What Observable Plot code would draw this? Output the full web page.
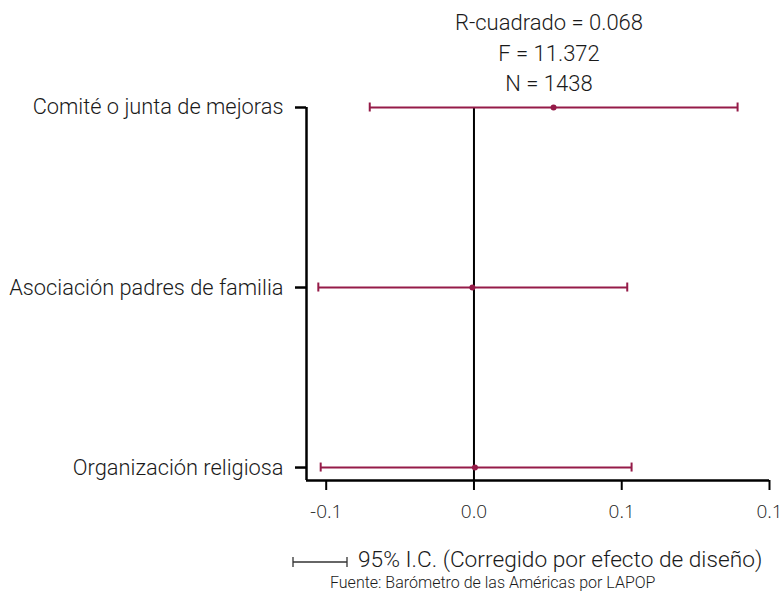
<!DOCTYPE html>
<html><head><meta charset="utf-8">
<script src="https://cdn.jsdelivr.net/npm/d3@7"></script>
<script src="https://cdn.jsdelivr.net/npm/@observablehq/plot@0.6"></script>
<style>
body{margin:0;background:#fff;}
#wrap{position:relative;width:782px;height:591px;overflow:hidden;font-family:Roboto,sans-serif;font-weight:300;color:#1a1a1a;}
#chart{position:absolute;left:0;top:0;}
.ann{position:absolute;left:399px;width:300px;text-align:center;font-size:22px;line-height:22px;white-space:nowrap;}
#legend{position:absolute;left:358px;top:549px;font-size:22.7px;line-height:22px;white-space:nowrap;}
#legsym{position:absolute;left:290px;top:556px;}
#caption{position:absolute;left:330px;top:574.5px;font-size:16px;line-height:15.5px;white-space:nowrap;}
</style></head><body>
<div id="wrap">
  <div id="chart"></div>
  <div id="anns"></div>
  <svg id="legsym" width="60" height="14"><line x1="3" x2="57" y1="6" y2="6" stroke="#333" stroke-width="1.3"/><line x1="3" x2="3" y1="1" y2="11" stroke="#333" stroke-width="1.3"/><line x1="57" x2="57" y1="1" y2="11" stroke="#333" stroke-width="1.3"/></svg>
  <div id="legend">95% I.C. (Corregido por efecto de diseño)</div>
  <div id="caption">Fuente: Barómetro de las Américas por LAPOP</div>
</div>
<script>
const categories = ["Organización religiosa", "Asociación padres de familia", "Comité o junta de mejoras"];
const coef = [0.0005, -0.0008, 0.0404];
const ciLow = [-0.0778, -0.0790, -0.0529];
const ciHigh = [0.0800, 0.0778, 0.1338];
const xTicks = [-0.075, 0, 0.075, 0.15];
const xTickLabels = ["-0.1", "0.0", "0.1", "0.1"];
const stats = ["R-cuadrado = 0.068", "F = 11.372", "N = 1438"];

const rows = categories.map((c, i) => ({cat: c, pos: i, coef: coef[i], lo: ciLow[i], hi: ciHigh[i]}));
const xDomain = [-0.085, 0.15];
const yDomain = [-0.072, 2];
const color = "#951b48";

const plot = Plot.plot({
  width: 782, height: 591,
  marginLeft: 306, marginRight: 13, marginTop: 107, marginBottom: 111,
  x: {domain: xDomain},
  y: {domain: yDomain},
  style: {background: "transparent", color: "#000"},
  marks: [
    Plot.axisX({ticks: xTicks, tickFormat: d => xTickLabels[xTicks.indexOf(d)], tickSize: 10, tickPadding: 14,
      strokeWidth: 2, fontSize: 19, fontFamily: "Open Sans", fill: "#222", label: null}),
    Plot.axisY({ticks: [0, 1, 2], tickFormat: d => categories[d], tickSize: 11, tickPadding: 12,
      strokeWidth: 2.5, fontSize: 21.8, fontFamily: "Roboto", fontWeight: 300, fill: "#1a1a1a", label: null}),
    Plot.ruleX([xDomain[0]], {y1: yDomain[0], y2: 2, strokeWidth: 2.5}),
    Plot.ruleY([yDomain[0]], {x1: xDomain[0], x2: xTicks[3], strokeWidth: 2.5}),
    Plot.ruleX([0], {y1: yDomain[0], y2: 2, strokeWidth: 2}),
    Plot.link(rows, {x1: "lo", x2: "hi", y1: "pos", y2: "pos", stroke: color, strokeWidth: 2}),
    Plot.ruleX(rows, {x: "lo", y1: d => d.pos - 0.025, y2: d => d.pos + 0.025, stroke: color, strokeWidth: 2}),
    Plot.ruleX(rows, {x: "hi", y1: d => d.pos - 0.025, y2: d => d.pos + 0.025, stroke: color, strokeWidth: 2}),
    Plot.dot(rows, {x: "coef", y: "pos", r: 3, fill: color, stroke: "none"})
  ]
});
document.getElementById("chart").appendChild(plot);

const anns = document.getElementById("anns");
const tops = [11.5, 42.5, 72.5];
stats.forEach((s, i) => {
  const d = document.createElement("div");
  d.className = "ann";
  d.style.top = tops[i] + "px";
  d.textContent = s;
  anns.appendChild(d);
});
</script>
</body></html>
